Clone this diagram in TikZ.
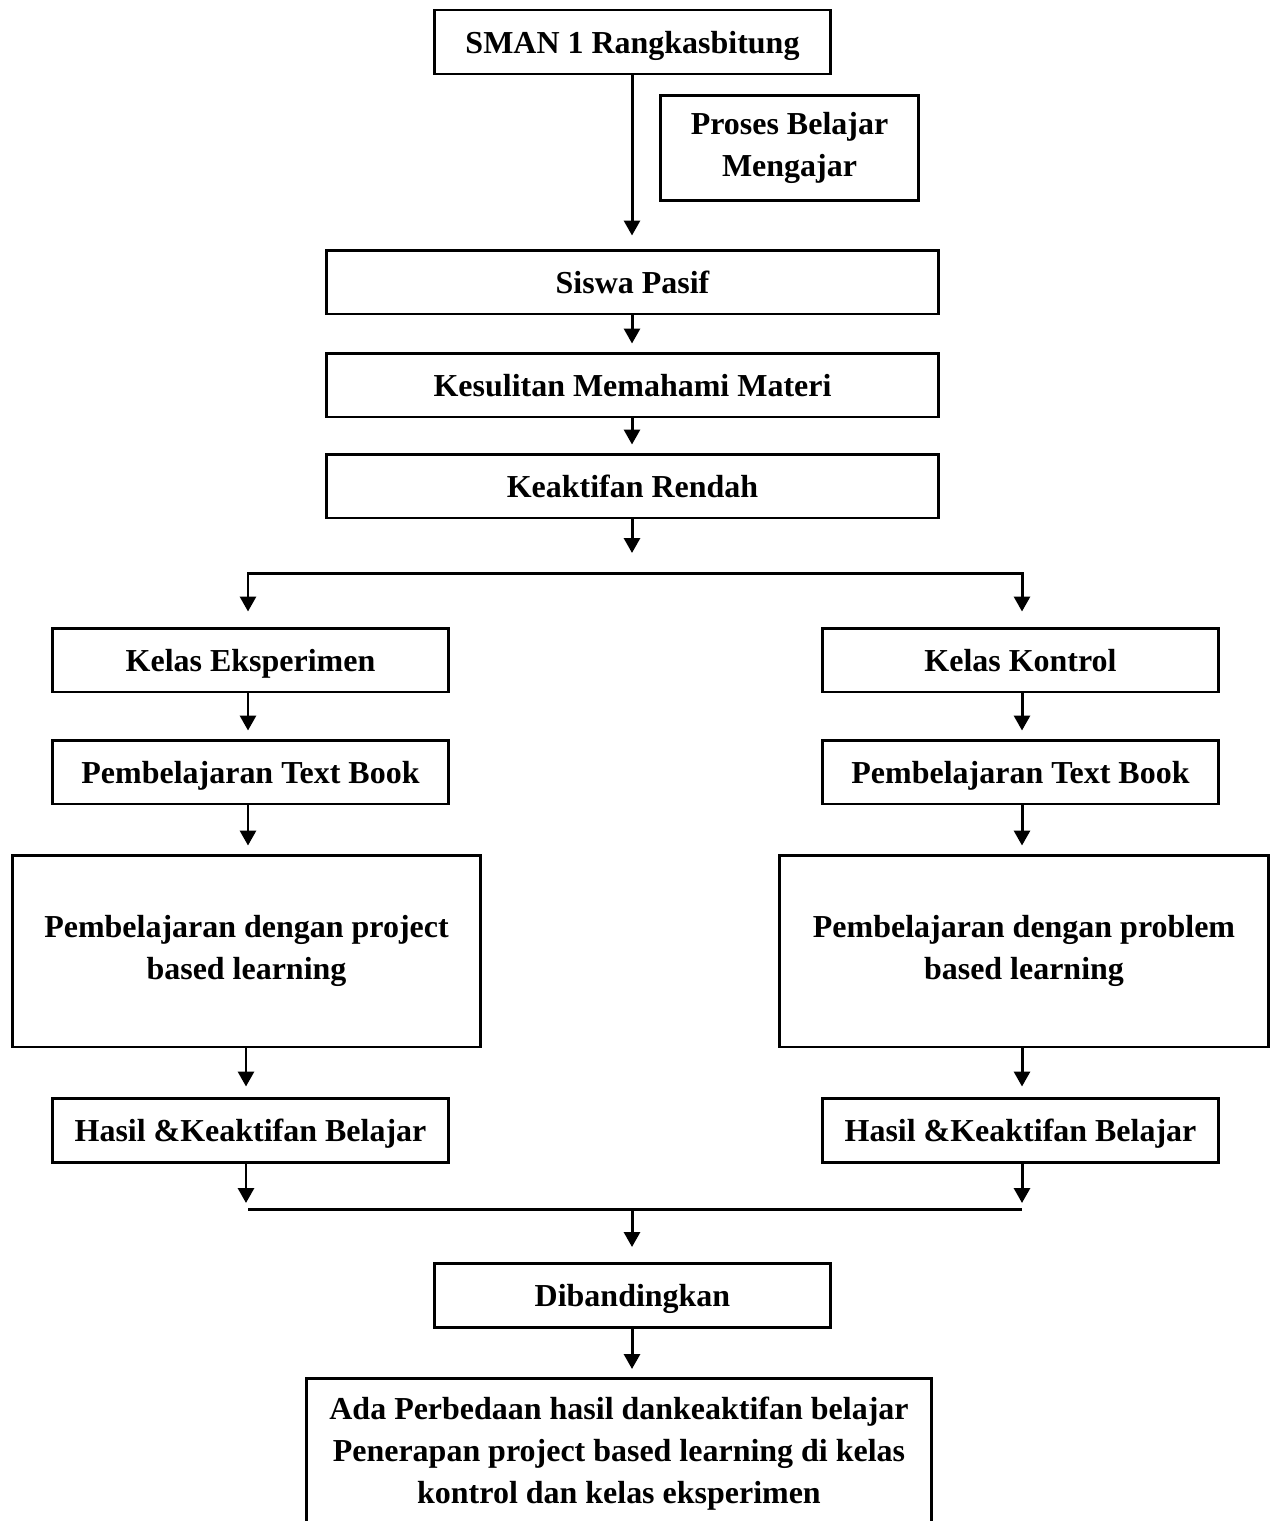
\documentclass[tikz,border=0pt]{standalone}
\usepackage{fontspec}
\setmainfont{Liberation Serif}
\usetikzlibrary{arrows.meta}

\begin{document}
\begin{tikzpicture}[x=0.02cm, y=-0.02cm,
    box/.style={draw, line width=1.7pt, align=center, inner sep=0pt,
      minimum width=7.94cm, minimum height=1.28cm,
      font=\fontsize{18.2}{24}\selectfont\bfseries},
    single/.style={box, text height=12.6pt, text depth=0pt},
    wide/.style={single, minimum width=12.26cm},
    arr/.style={line width=1.7pt, -{Triangle[length=0.3cm,width=0.32cm]}, shorten >=0.16cm}]
      \useasboundingbox (0,0) rectangle (1274,1521);
      \clip (0,0) rectangle (1274,1521);

      \node[single] (A) at (632.5,42) {SMAN 1 Rangkasbitung};
      \node[box, minimum width=5.18cm, minimum height=2.1cm] (B) at (789.5,148) {Proses Belajar\\Mengajar};
      \node[wide] (C) at (632.5,282) {Siswa Pasif};
      \node[wide] (D) at (632.5,385) {Kesulitan Memahami Materi};
      \node[wide] (E) at (632.5,486) {Keaktifan Rendah};

      \node[single] (F) at (250.5,660) {Kelas Eksperimen};
      \node[single] (G) at (1020.5,660) {Kelas Kontrol};
      \node[single] (H) at (250.5,772) {Pembelajaran Text Book};
      \node[single] (I) at (1020.5,772) {Pembelajaran Text Book};
      \node[box, minimum width=9.38cm, minimum height=3.84cm] (J) at (246.5,951) {Pembelajaran dengan project\\based learning};
      \node[box, minimum width=9.8cm, minimum height=3.84cm] (K) at (1024,951) {Pembelajaran dengan problem\\based learning};
      \node[single] (L) at (250.5,1130) {Hasil \&Keaktifan Belajar};
      \node[single] (M) at (1020.5,1130) {Hasil \&Keaktifan Belajar};

      \node[single] (N) at (632.5,1295.5) {Dibandingkan};
      \node[box, minimum width=12.52cm, anchor=north, inner ysep=0.36cm] (O) at (619,1377)
        {Ada Perbedaan hasil dankeaktifan belajar\\Penerapan project based learning di kelas\\kontrol dan kelas eksperimen};

      % split and merge points
      \coordinate (s0) at (632,553);
      \coordinate (s1) at (248,573);
      \coordinate (s2) at (1022,573);
      \coordinate (m1) at (246,1203);
      \coordinate (m2) at (1022,1203);
      \coordinate (m3) at (248,1209);
      \coordinate (m4) at (1022,1209);
      \coordinate (m5) at (632,1209);

      \draw[arr, shorten >=0.26cm] (A.south -| s0) -- (C.north -| s0);
      \draw[arr] (C.south -| s0) -- (D.north -| s0);
      \draw[arr] (D.south -| s0) -- (E.north -| s0);
      \draw[arr, shorten >=0pt] (E.south -| s0) -- (s0);

      \draw[arr, shorten >=0.3cm] (s2) -- (s1) -- (F.north -| s1);
      \draw[arr, shorten >=0.3cm] (s1) -- (s2) -- (G.north -| s2);

      \draw[arr] (F.south -| s1) -- (H.north -| s1);
      \draw[arr] (G.south -| s2) -- (I.north -| s2);
      \draw[arr] (H.south -| s1) -- (J.north -| s1);
      \draw[arr] (I.south -| s2) -- (K.north -| s2);
      \draw[arr, shorten >=0.2cm] (J.south -| m1) -- (L.north -| m1);
      \draw[arr, shorten >=0.2cm] (K.south -| m2) -- (M.north -| m2);

      \draw[arr, shorten >=0pt] (L.south -| m1) -- (m1);
      \draw[arr, shorten >=0pt] (M.south -| m2) -- (m2);
      \draw[line width=1.7pt] (m3) -- (m4);
      \draw[arr, shorten >=0.3cm] (m5) -- (N.north -| m5);
      \draw[arr] (N.south -| m5) -- (O.north -| m5);
    \end{tikzpicture}
\end{document}
